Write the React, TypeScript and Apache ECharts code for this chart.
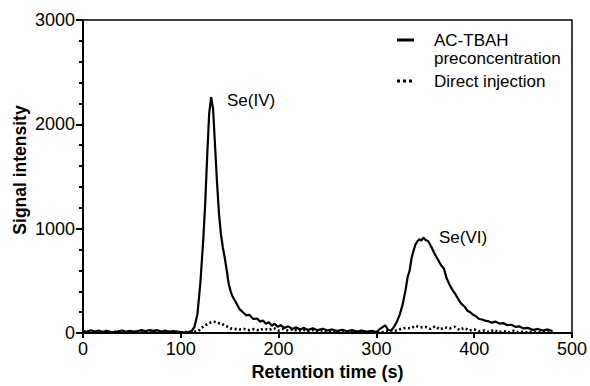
import React, { useEffect, useRef } from "react";
import * as echarts from "echarts";

const xTicks = [0, 100, 200, 300, 400, 500];
const yTicks = [0, 1000, 2000, 3000];

const seriesNames = ["AC-TBAH\npreconcentration", "Direct injection"];

// AC-TBAH preconcentration: [retention time (s), signal]
const preconTime = [
  0, 4, 8, 12, 16, 20, 24, 28, 32, 36, 40, 44, 48, 52, 56, 60, 64, 68, 72, 76, 80, 84, 88, 92, 96, 100, 104, 108, 111, 114, 117, 120, 123, 125, 127, 129, 131, 133, 135, 137, 139, 141, 143, 145, 147, 149, 151, 153, 156, 160, 163, 167, 170, 174, 178, 181, 184, 187, 190, 193, 196, 199, 202, 206, 210, 214, 218, 222, 226, 230, 235, 240, 245, 250, 255, 260, 265, 270, 275, 280, 285, 290, 295, 300, 303, 306, 309, 312, 315, 318, 321, 324, 327, 330, 332, 334, 336, 338, 340, 342, 344, 346, 348, 350, 353, 356, 359, 362, 365, 367, 369, 372, 375, 378, 381, 384, 387, 390, 393, 396, 399, 402, 405, 408, 411, 414, 418, 422, 426, 430, 434, 438, 442, 446, 450, 455, 460, 465, 470, 475, 480,
];
const preconSignal = [
  20, 12, 28, 15, 25, 10, 22, 12, 8, 18, 25, 12, 22, 15, 20, 28, 18, 30, 22, 28, 15, 24, 12, 20, 14, 10, 8, 12, 18, 60, 180, 480, 900, 1250, 1700, 2100, 2260, 2150, 1800, 1450, 1150, 950, 820, 720, 600, 470, 400, 350, 300, 230, 205, 170, 175, 135, 140, 110, 120, 90, 105, 70, 90, 60, 75, 50, 65, 40, 55, 35, 50, 30, 45, 28, 42, 25, 35, 20, 32, 18, 28, 15, 25, 12, 22, 10, 35, 55, 75, 30, 25, 60, 110, 180, 280, 420, 540, 600, 720, 790, 850, 880, 900, 885, 915, 895, 880, 830, 770, 720, 670, 640, 620, 520, 460, 410, 370, 320, 280, 255, 215, 200, 175, 160, 135, 130, 120, 115, 100, 110, 90, 95, 75, 80, 60, 65, 45, 50, 30, 40, 25, 35, 20, 30,
];

// Direct injection
const directTime = [
  0, 5, 10, 15, 20, 25, 30, 35, 40, 45, 50, 55, 60, 65, 70, 75, 80, 85, 90, 95, 100, 105, 110, 115, 118, 121, 124, 127, 130, 133, 136, 139, 142, 145, 148, 151, 155, 160, 165, 170, 175, 180, 185, 190, 195, 200, 205, 210, 215, 220, 225, 230, 235, 240, 245, 250, 255, 260, 265, 270, 275, 280, 285, 290, 295, 300, 305, 310, 315, 320, 325, 330, 335, 340, 345, 350, 355, 360, 365, 370, 375, 380, 385, 390, 395, 400, 405, 410, 415, 420, 425, 430, 435, 440, 445, 450, 455, 460, 465, 470, 475, 480,
];
const directSignal = [
  10, 18, 6, 14, 10, 4, 8, 16, 8, 14, 6, 12, 16, 10, 20, 8, 14, 18, 6, 12, 8, 10, 12, 15, 20, 50, 70, 85, 100, 110, 105, 95, 90, 70, 60, 45, 40, 35, 40, 28, 38, 25, 42, 30, 48, 25, 40, 22, 38, 20, 35, 18, 30, 15, 28, 12, 25, 10, 22, 8, 18, 12, 20, 8, 15, 10, 5, 20, 12, 25, 40, 50, 45, 70, 55, 60, 40, 65, 35, 55, 45, 60, 30, 50, 25, 35, 18, 25, 10, 30, 8, 20, 5, 22, 6, 15, 4, 18, 8, 12, 6, 14,
];

const FONT = "'Liberation Sans', Arial, Helvetica, sans-serif";

export default function App() {
  const ref = useRef<HTMLDivElement>(null);

  useEffect(() => {
    if (!ref.current) return;
    const chart = echarts.init(ref.current, null, { renderer: "svg" });
    const precon = preconTime.map((t, i) => [t, preconSignal[i]]);
    const direct = directTime.map((t, i) => [t, directSignal[i]]);

    chart.setOption({
      animation: false,
      backgroundColor: "#ffffff",
      textStyle: { fontFamily: FONT },
      grid: {
        left: 83,
        right: 17,
        top: 20,
        bottom: 49,
        show: true,
        borderColor: "#000",
        borderWidth: 1.5,
        backgroundColor: "transparent",
      },
      xAxis: {
        type: "value",
        min: xTicks[0],
        max: xTicks[xTicks.length - 1],
        interval: 100,
        name: "Retention time (s)",
        nameLocation: "middle",
        nameGap: 29,
        nameTextStyle: { fontSize: 18, fontWeight: "bold", color: "#000", fontFamily: FONT },
        axisLine: { onZero: false, lineStyle: { color: "#000", width: 2 } },
        axisTick: { show: true, length: 5, lineStyle: { color: "#000", width: 2 } },
        axisLabel: { fontSize: 18, color: "#000", margin: 7, fontFamily: FONT },
        splitLine: { show: false },
      },
      yAxis: {
        type: "value",
        min: yTicks[0],
        max: yTicks[yTicks.length - 1],
        interval: 1000,
        axisLine: { show: true, onZero: false, lineStyle: { color: "#000", width: 2 } },
        axisTick: { show: true, length: 7, lineStyle: { color: "#000", width: 2 } },
        minorTick: { show: true, splitNumber: 5, length: 4, lineStyle: { color: "#000", width: 2 } },
        axisLabel: {
          fontSize: 18,
          color: "#000",
          margin: 8,
          fontFamily: FONT,
          formatter: (v: number) => String(v),
        },
        splitLine: { show: false },
      },
      series: [
        {
          name: seriesNames[0],
          type: "line",
          data: precon,
          showSymbol: false,
          lineStyle: { color: "#000", width: 2.2 },
          z: 3,
        },
        {
          name: seriesNames[1],
          type: "line",
          data: direct,
          showSymbol: false,
          lineStyle: { color: "#000", width: 2.6, type: [2, 2.5] },
          z: 2,
        },
      ],
      graphic: [
        {
          type: "text",
          x: 20,
          y: 170,
          rotation: Math.PI / 2,
          style: {
            text: "Signal intensity",
            font: `bold 17.5px ${FONT}`,
            fill: "#000",
            align: "center",
            verticalAlign: "middle",
          },
        },
        { type: "line", shape: { x1: 397, y1: 40, x2: 414, y2: 40 }, style: { stroke: "#000", lineWidth: 3 } },
        { type: "text", x: 434, y: 40, style: { text: "AC-TBAH", font: `17px ${FONT}`, fill: "#000", verticalAlign: "middle" } },
        { type: "text", x: 434, y: 58, style: { text: "preconcentration", font: `17px ${FONT}`, fill: "#000", verticalAlign: "middle" } },
        { type: "line", shape: { x1: 397, y1: 81, x2: 414, y2: 81 }, style: { stroke: "#000", lineWidth: 3, lineDash: [3, 3] } },
        { type: "text", x: 434, y: 81, style: { text: "Direct injection", font: `17px ${FONT}`, fill: "#000", verticalAlign: "middle" } },
        { type: "text", x: 227, y: 100, style: { text: "Se(IV)", font: `17px ${FONT}`, fill: "#000", verticalAlign: "middle" } },
        { type: "text", x: 439, y: 237, style: { text: "Se(VI)", font: `17px ${FONT}`, fill: "#000", verticalAlign: "middle" } },
      ],
    });
    return () => chart.dispose();
  }, []);

  return <div ref={ref} style={{ width: 590, height: 386, position: "absolute", left: 0, top: 0 }} />;
}
